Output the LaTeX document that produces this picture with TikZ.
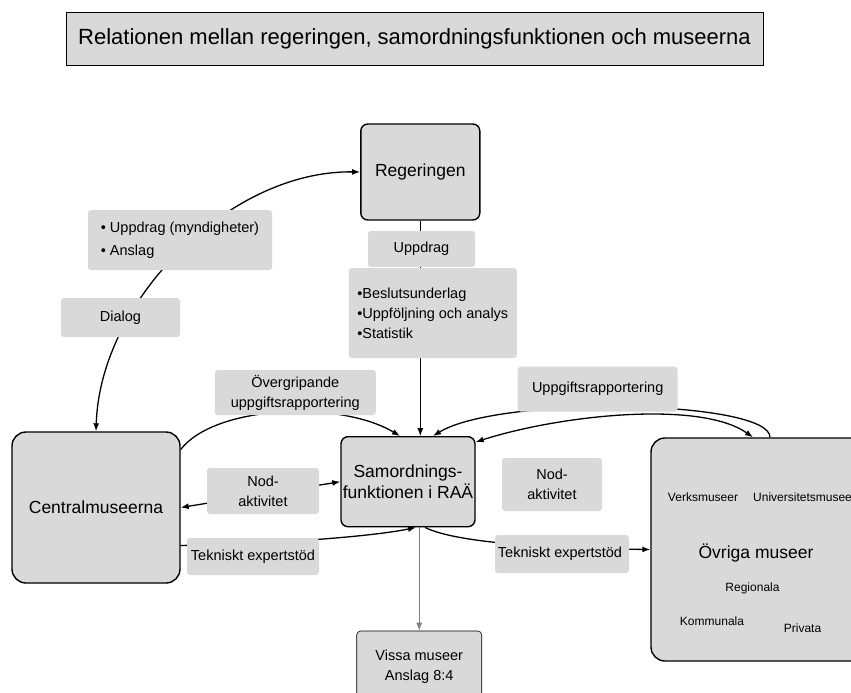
\documentclass[tikz,border=0pt]{standalone}
\usepackage{fontspec}
\setmainfont{Liberation Sans}
\usetikzlibrary{arrows.meta,backgrounds}
\definecolor{boxgray}{gray}{0.85}
\tikzset{
  hub/.style={draw,line width=1.4pt,fill=boxgray,rounded corners=7pt,align=center,inner sep=0pt,font=\fontsize{17.5}{21}\selectfont},
  bighub/.style={hub,rounded corners=14pt},
  lbl/.style={fill=boxgray,rounded corners=3pt,align=center,inner sep=0pt,font=\fontsize{14.5}{20}\selectfont},
  small/.style={font=\fontsize{12}{14}\selectfont},
  link/.style={line width=1.3pt,->}
}
\begin{document}
\begin{tikzpicture}[x=1pt,y=-1pt,>={Latex[length=8pt,width=6pt]}]
      \useasboundingbox (0,0) rectangle (851,693);
      \clip (0,0) rectangle (851,693);
      \node[lbl,draw,line width=0.8pt,rounded corners=0pt,minimum width=697pt,minimum height=53pt,font=\fontsize{22}{26}\selectfont] (title) at (414.5,38.5) {Relationen mellan regeringen, samordningsfunktionen och museerna};
      \node[hub,minimum width=119pt,minimum height=96pt] (reg) at (420.3,172) {Regeringen};
      \node[hub,minimum width=134pt,minimum height=90pt] (samord) at (408,481.7) {Samordnings-\\funktionen i RAÄ};
      \node[bighub,minimum width=168pt,minimum height=151pt] (central) at (96,507.5) {Centralmuseerna};
      \node[bighub,minimum width=224pt,minimum height=223pt] (ovriga) at (763,549.5) {};
      \node[lbl,draw,line width=0.6pt,rounded corners=4pt,minimum width=125pt,minimum height=72pt] (vissa) at (419.2,667) {Vissa museer\\Anslag 8:4};
      \node[lbl,align=left,minimum width=184pt,minimum height=60pt,font=\fontsize{14.5}{23}\selectfont] (anslag) at (180,240) {\textbullet~Uppdrag (myndigheter)\\\textbullet~Anslag};
      \node[lbl,align=left,minimum width=168pt,minimum height=90pt] (beslut) at (432.8,313) {\textbullet Beslutsunderlag\\\textbullet Uppföljning och analys\\\textbullet Statistik};
      \foreach \n/\x/\y/\w/\h/\t in {
        dialog/120.5/317.5/119/39/Dialog,
        uppdrag/421.5/249/107/36/Uppdrag,
        overgr/295.3/392.5/161/45/{Övergripande\\uppgiftsrapportering},
        uppgift/597.7/389.2/160/45/Uppgiftsrapportering,
        nodL/263/491/112/46/{Nod-\\aktivitet},
        nodR/552/484.5/100/53/{Nod-\\aktivitet},
        tekL/253/556.5/132/37/Tekniskt expertstöd,
        tekR/562/554/134/38/Tekniskt expertstöd
      }{
        \node[lbl,minimum width=\w pt,minimum height=\h pt] (\n) at (\x,\y) {\t};
      }
      \foreach \n/\x/\y/\t in {
        verks/703/497/Verksmuseer, region/752.5/588/Regionala,
        kommun/712/621.7/Kommunala, privat/802.5/628/Privata
      }{
        \node[small] (\n) at (\x,\y) {\t};
      }
      \node[small,anchor=west,inner sep=0pt] (univ) at (753,497) {Universitetsmuseer};
      \node[font=\fontsize{17.5}{21}\selectfont] (ovtitle) at (756,553) {Övriga museer};
      \begin{scope}[on background layer]
        \draw[link,<->] (central.north) .. controls (100,300) and (230,170) .. (reg.west);
        \draw[link] ([yshift=58pt]central.east) .. controls (215,405) and (340,400) .. ([xshift=-8pt]samord.north);
        \draw[link,line width=0.8pt] (reg.south) -- (reg.south |- samord.north);
        \draw[link] ([xshift=7pt]ovriga.north) .. controls (770,400) and (500,395) .. ([xshift=25pt]samord.north);
        \draw[link,<->] ([yshift=-6pt]samord.north east) .. controls (560,415) and (700,400) .. ([xshift=-10pt]ovriga.north);
        \draw[link,<->] (central.east) -- (samord.west);
        \draw[link] ([yshift=-38pt]central.east) .. controls (300,543) and (380,535) .. ([xshift=8pt]samord.south);
        \draw[link] ([xshift=17pt]samord.south) .. controls (450,540) and (520,548) .. (ovriga.west);
        \draw[link,gray,line width=1pt] (samord.south -| vissa.north) -- (vissa.north);
      \end{scope}
    \end{tikzpicture}
\end{document}
